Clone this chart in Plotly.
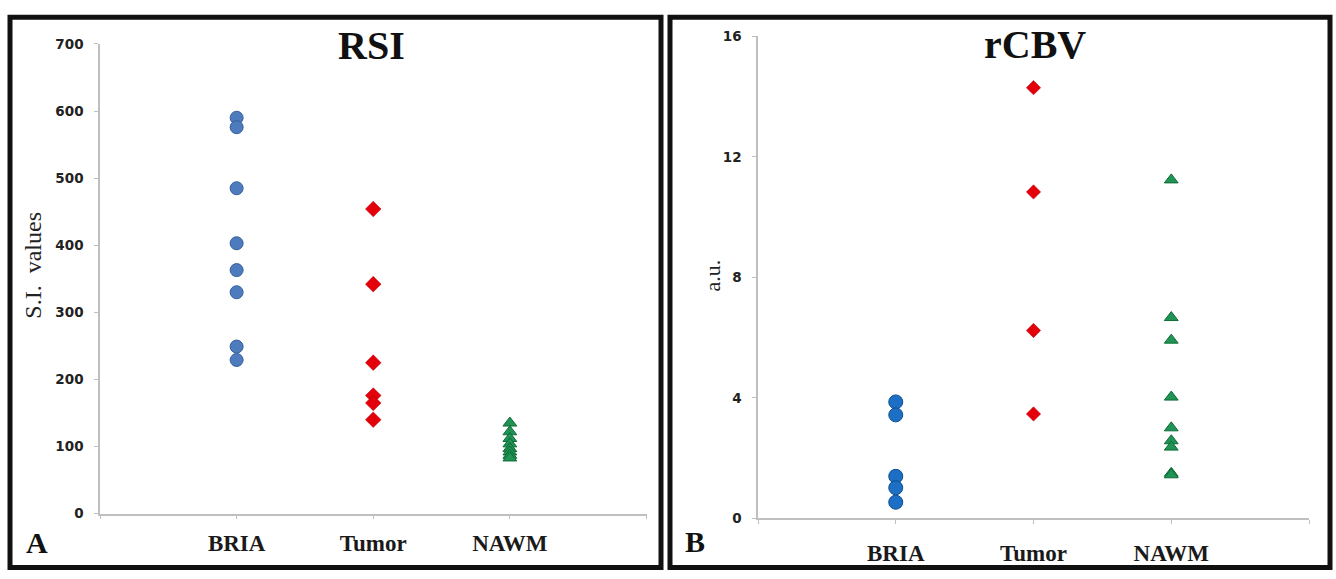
import plotly.graph_objects as go

W, H = 1336, 579

categories = ["BRIA", "Tumor", "NAWM"]

# Panel A: RSI (S.I. values)
rsi_bria = [590, 576, 485, 403, 363, 330, 249, 229]
rsi_tumor = [454, 342, 225, 176, 165, 140]
rsi_nawm = [135, 122, 112, 104, 97, 92, 87, 83]
rsi_ticks = [0, 100, 200, 300, 400, 500, 600, 700]

# Panel B: rCBV (a.u.)
rcbv_bria = [3.87, 3.44, 1.40, 1.02, 0.54]
rcbv_tumor = [14.3, 10.84, 6.24, 3.47]
rcbv_nawm = [11.24, 6.67, 5.92, 4.03, 3.01, 2.58, 2.37, 1.50, 1.45]
rcbv_ticks = [0, 4, 8, 12, 16]


def px_x(p):
    return p / W


def px_y(p):
    return 1 - p / H


fig = go.Figure()

styles = {
    "A": [
        dict(symbol="circle", size=13, color="#4d7bbd", line=dict(color="#34609a", width=1)),
        dict(symbol="diamond", size=12, color="#e3000b", line=dict(color="#b00008", width=0.5)),
        dict(symbol="triangle-up", size=12, color="#1f9454", line=dict(color="#0f6a36", width=1)),
    ],
    "B": [
        dict(symbol="circle", size=14, color="#1c6fc4", line=dict(color="#0e4d90", width=1)),
        dict(symbol="diamond", size=11, color="#e3000b", line=dict(color="#b00008", width=0.5)),
        dict(symbol="triangle-up", size=12, color="#1f9454", line=dict(color="#0f6a36", width=1)),
    ],
}

for i, vals in enumerate([rsi_bria, rsi_tumor, rsi_nawm]):
    fig.add_trace(go.Scatter(x=[i + 1] * len(vals), y=vals, mode="markers",
                             marker=styles["A"][i], xaxis="x", yaxis="y",
                             name=categories[i], showlegend=False))
for i, vals in enumerate([rcbv_bria, rcbv_tumor, rcbv_nawm]):
    fig.add_trace(go.Scatter(x=[i + 1] * len(vals), y=vals, mode="markers",
                             marker=styles["B"][i], xaxis="x2", yaxis="y2",
                             name=categories[i], showlegend=False))

axis_gray = "#bfbfbf"
xcommon = dict(range=[0, 4], tickvals=[0, 1, 2, 3, 4], ticktext=[""] + categories + [""],
               showline=True, linecolor=axis_gray, linewidth=1.5, ticks="outside",
               ticklen=4, tickcolor=axis_gray, showgrid=False, zeroline=False,
               tickfont=dict(family="Liberation Serif", size=23, color="#1a1a1a", weight="bold"),
               fixedrange=True)
ycommon = dict(showline=True, linecolor=axis_gray, linewidth=1.5, ticks="outside",
               ticklen=4, tickcolor=axis_gray, showgrid=False, zeroline=False,
               tickfont=dict(family="DejaVu Sans", size=13.5, color="#222222", weight="bold"),
               ticklabelstandoff=8, fixedrange=True)

fig.update_layout(
    width=W, height=H,
    margin=dict(l=0, r=0, t=0, b=0),
    paper_bgcolor="white", plot_bgcolor="white",
    xaxis=dict(domain=[px_x(100), px_x(646.5)], anchor="y", ticklabelstandoff=4, **xcommon),
    yaxis=dict(domain=[px_y(520), px_y(37)], range=[0, 700], tickvals=rsi_ticks,
               anchor="x", **ycommon),
    xaxis2=dict(domain=[px_x(758), px_x(1309)], anchor="y2", ticklabelstandoff=9, **xcommon),
    yaxis2=dict(domain=[px_y(525), px_y(29.3)], range=[0, 16], tickvals=rcbv_ticks,
                anchor="x2", **ycommon),
)

annotations = [
    dict(text="<b>RSI</b>", x=px_x(371), y=px_y(38.5), size=40),
    dict(text="<b>rCBV</b>", x=px_x(1034.5), y=px_y(38), size=40),
    dict(text="<b>A</b>", x=px_x(36.7), y=px_y(550), size=30),
    dict(text="<b>B</b>", x=px_x(695), y=px_y(549), size=30),
]
for a in annotations:
    fig.add_annotation(text=a["text"], x=a["x"], y=a["y"], xref="paper", yref="paper",
                       xanchor="center", yanchor="middle", showarrow=False,
                       font=dict(family="Liberation Serif", size=a["size"], color="#111111"))

fig.add_annotation(text="S.I.  values", x=px_x(33), y=px_y(265), xref="paper", yref="paper",
                   textangle=-90, showarrow=False, xanchor="center", yanchor="middle",
                   font=dict(family="Liberation Serif", size=24, color="#222222"))
fig.add_annotation(text="a.u.", x=px_x(712), y=px_y(275), xref="paper", yref="paper",
                   textangle=-90, showarrow=False, xanchor="center", yanchor="middle",
                   font=dict(family="Liberation Serif", size=22, color="#222222"))

# panel borders
for (x0, x1) in [(10, 661), (670, 1330)]:
    fig.add_shape(type="rect", xref="paper", yref="paper",
                  x0=px_x(x0), x1=px_x(x1), y0=px_y(575.5), y1=px_y(9.5),
                  line=dict(color="#111111", width=5), fillcolor="rgba(0,0,0,0)")

fig.write_html(
    "out.html",
    config={"displayModeBar": False},
    post_script="document.body.style.margin='0';document.body.style.padding='0';"
                "document.body.style.overflow='hidden';",
)
